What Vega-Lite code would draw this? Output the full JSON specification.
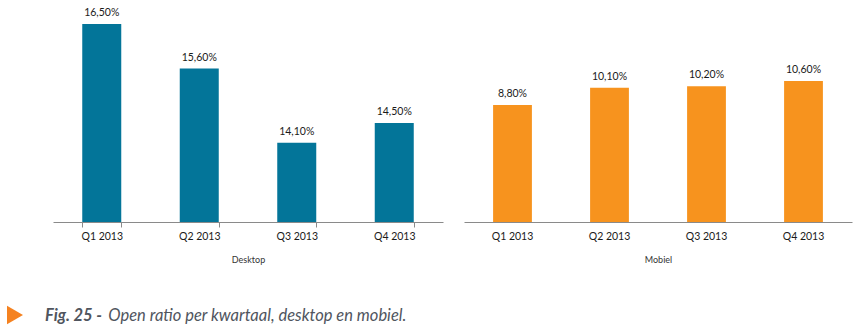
{
  "$schema": "https://vega.github.io/schema/vega-lite/v6.json",
  "padding": {"left": 5, "top": 5, "right": 5, "bottom": 5},
  "background": "white",
  "config": {
    "view": {"stroke": null},
    "font": "Lato",
    "locale": {"number": {"decimal": ",", "thousands": ".", "grouping": [3], "currency": ["€", ""]}}
  },
  "datasets": {
    "open": [
      {"kanaal": "Desktop", "kwartaal": "Q1 2013", "ratio": 0.165},
      {"kanaal": "Desktop", "kwartaal": "Q2 2013", "ratio": 0.156},
      {"kanaal": "Desktop", "kwartaal": "Q3 2013", "ratio": 0.141},
      {"kanaal": "Desktop", "kwartaal": "Q4 2013", "ratio": 0.145},
      {"kanaal": "Mobiel", "kwartaal": "Q1 2013", "ratio": 0.088},
      {"kanaal": "Mobiel", "kwartaal": "Q2 2013", "ratio": 0.101},
      {"kanaal": "Mobiel", "kwartaal": "Q3 2013", "ratio": 0.102},
      {"kanaal": "Mobiel", "kwartaal": "Q4 2013", "ratio": 0.106}
    ],
    "caption": [
      {"kind": "marker", "pos": -4.81, "label": ""},
      {"kind": "bold", "pos": -1.01, "label": "Fig. 25 -"},
      {"kind": "text", "pos": 7.0, "label": "Open ratio per kwartaal, desktop en mobiel."}
    ]
  },
  "spacing": 40,
  "vconcat": [
    {
      "spacing": 21,
      "hconcat": [
        {
          "width": 390,
          "height": 217,
          "data": {"name": "open"},
          "transform": [{"filter": "datum.kanaal === 'Desktop'"}],
          "encoding": {
            "x": {
              "field": "kwartaal", "type": "nominal", "sort": null,
              "scale": {"paddingInner": 0.6, "paddingOuter": 0.3},
              "axis": {
                "title": "Desktop", "labelAngle": 0, "labelFontSize": 10.5, "labelColor": "#1a1a1a",
                "labelPadding": 4, "tickSize": 5, "tickColor": "#8a8a8a", "domainColor": "#8a8a8a",
                "tickBand": "extent", "titleFontSize": 9, "titleFontWeight": "normal", "titleColor": "#333333",
                "titlePadding": 14, "grid": false
              }
            },
            "y": {
              "field": "ratio", "type": "quantitative",
              "scale": {"domain": [0.125, 0.16884], "nice": false, "zero": false},
              "axis": {"labels": false, "ticks": false, "domain": false, "grid": false, "title": null, "minExtent": 48, "maxExtent": 48}
            }
          },
          "layer": [
            {"mark": {"type": "bar", "color": "#037599", "clip": true}},
            {
              "mark": {"type": "text", "baseline": "alphabetic", "dy": -8, "fontSize": 10.5, "color": "#1a1a1a"},
              "encoding": {"text": {"field": "ratio", "type": "quantitative", "format": ".2%"}}
            }
          ]
        },
        {
          "width": 388,
          "height": 217,
          "data": {"name": "open"},
          "transform": [{"filter": "datum.kanaal === 'Mobiel'"}],
          "encoding": {
            "x": {
              "field": "kwartaal", "type": "nominal", "sort": null,
              "scale": {"paddingInner": 0.6, "paddingOuter": 0.3},
              "axis": {
                "title": "Mobiel", "labelAngle": 0, "labelFontSize": 10.5, "labelColor": "#1a1a1a",
                "labelPadding": 4, "tickSize": 5, "tickOpacity": 0, "domainColor": "#8a8a8a",
                "titleFontSize": 9, "titleFontWeight": "normal", "titleColor": "#333333",
                "titlePadding": 14, "grid": false
              }
            },
            "y": {
              "field": "ratio", "type": "quantitative",
              "scale": {"domain": [0, 0.16316], "nice": false},
              "axis": null
            }
          },
          "layer": [
            {"mark": {"type": "bar", "color": "#F7931E", "clip": true}},
            {
              "mark": {"type": "text", "baseline": "alphabetic", "dy": -8, "fontSize": 10.5, "color": "#1a1a1a"},
              "encoding": {"text": {"field": "ratio", "type": "quantitative", "format": ".2%"}}
            }
          ]
        }
      ]
    },
    {
      "width": 790,
      "height": 20,
      "data": {"name": "caption"},
      "encoding": {
        "x": {"field": "pos", "type": "quantitative", "scale": {"domain": [0, 100], "nice": false, "zero": false}, "axis": null}
      },
      "layer": [
        {
          "transform": [{"filter": "datum.kind === 'marker'"}],
          "mark": {"type": "point", "shape": "triangle-right", "filled": true, "color": "#F58220", "size": 340, "opacity": 1, "dy": -1}
        },
        {
          "transform": [{"filter": "datum.kind === 'bold'"}],
          "mark": {"type": "text", "align": "left", "baseline": "alphabetic", "dy": 6, "fontSize": 16.5, "fontStyle": "italic", "fontWeight": "bold", "color": "#50555e"},
          "encoding": {"text": {"field": "label"}}
        },
        {
          "transform": [{"filter": "datum.kind === 'text'"}],
          "mark": {"type": "text", "align": "left", "baseline": "alphabetic", "dy": 6, "fontSize": 16.5, "fontStyle": "italic", "color": "#50555e"},
          "encoding": {"text": {"field": "label"}}
        }
      ]
    }
  ]
}
